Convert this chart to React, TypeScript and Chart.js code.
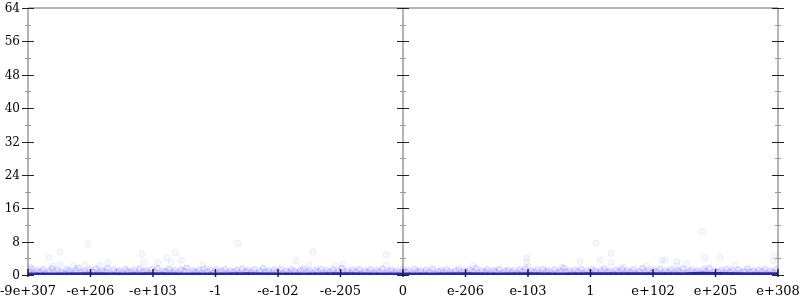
import React, { useEffect, useRef } from "react";
import { Chart, registerables } from "chart.js";

Chart.register(...registerables);

const xTickLabels = ["-9e+307", "-e+206", "-e+103", "-1", "-e-102", "-e-205", "0", "e-206", "e-103", "1", "e+102", "e+205", "e+308"];
const yTickValues = [0, 8, 16, 24, 32, 40, 48, 56, 64];
const frameX = [0, 6, 12];
const yMax = 64;
const yMajorStep = 8;

const outlierPoints: [number, number][] = [
  [0.03, 2.0], [0.34, 4.1], [0.4, 2.2], [0.51, 5.6], [0.51, 2.6], [0.72, 2.2], [0.91, 2.3], [0.96, 7.4],
  [1.14, 2.2], [1.28, 3.0], [1.82, 5.1], [1.86, 3.0], [2.08, 3.0], [2.22, 4.1], [2.29, 3.1], [2.36, 5.3],
  [2.46, 3.5], [2.8, 2.4], [3.36, 7.6], [4.29, 3.4], [4.5, 2.4], [4.56, 5.6], [4.92, 2.2], [5.04, 2.6],
  [5.73, 4.8], [5.73, 2.4], [7.12, 2.2], [7.98, 4.1], [7.98, 3.2], [8.0, 1.9], [8.54, 1.9], [8.83, 3.2],
  [9.09, 7.6], [9.15, 3.6], [9.33, 5.2], [9.33, 3.0], [9.52, 1.9], [9.9, 2.2], [10.14, 3.6], [10.19, 3.5],
  [10.38, 3.2], [10.38, 2.2], [10.54, 2.6], [10.78, 10.4], [10.83, 4.1], [11.07, 4.3], [11.31, 2.3],
  [11.92, 3.4], [11.95, 4.6],
];

const bandPoints: [number, number][] = [
  [0.02, 0.8], [0.05, 1.5], [0.1, 0.5], [0.14, 1.1], [0.19, 0.7], [0.24, 1.3], [0.28, 0.4], [0.33, 0.9], [0.38, 1.6], [0.42, 0.6],
  [0.47, 1.2], [0.53, 0.8], [0.57, 0.4], [0.62, 1.4], [0.66, 0.9], [0.71, 0.5], [0.76, 1.1], [0.8, 1.7], [0.85, 0.6], [0.9, 1.0],
  [0.94, 0.4], [0.99, 1.3], [1.04, 0.7], [1.09, 1.5], [1.13, 0.5], [1.18, 1.0], [1.23, 0.8], [1.27, 1.6], [1.32, 0.4], [1.37, 1.2],
  [1.42, 0.7], [1.46, 1.0], [1.51, 0.5], [1.56, 1.4], [1.6, 0.9], [1.65, 0.6], [1.7, 1.2], [1.74, 0.4], [1.79, 1.5], [1.84, 0.8],
  [1.89, 1.1], [1.93, 0.5], [1.98, 1.3], [2.03, 0.7], [2.07, 1.6], [2.12, 0.4], [2.17, 1.0], [2.21, 0.8], [2.26, 1.4], [2.31, 0.6],
  [2.35, 1.1], [2.4, 0.5], [2.45, 1.3], [2.5, 0.9], [2.54, 1.7], [2.59, 0.4], [2.64, 1.0], [2.68, 0.7], [2.73, 1.2], [2.78, 0.5],
  [2.82, 1.5], [2.87, 0.8], [2.92, 1.1], [2.96, 0.4], [3.01, 1.3], [3.06, 0.6], [3.1, 0.9], [3.15, 1.4], [3.2, 0.5], [3.24, 1.0],
  [3.29, 0.7], [3.34, 1.2], [3.38, 0.4], [3.43, 1.5], [3.48, 0.8], [3.52, 1.1], [3.57, 0.6], [3.62, 1.3], [3.66, 0.4], [3.71, 0.9],
  [3.76, 1.6], [3.8, 0.7], [3.85, 1.0], [3.9, 0.5], [3.94, 1.2], [3.99, 0.8], [4.04, 1.4], [4.08, 0.4], [4.13, 1.0], [4.18, 0.6],
  [4.22, 1.3], [4.27, 0.9], [4.32, 0.5], [4.36, 1.1], [4.41, 1.5], [4.46, 0.7], [4.5, 1.0], [4.55, 0.4], [4.6, 1.2], [4.64, 0.8],
  [4.69, 1.4], [4.74, 0.5], [4.78, 1.1], [4.83, 0.7], [4.88, 1.3], [4.92, 0.4], [4.97, 0.9], [5.02, 1.6], [5.06, 0.6], [5.11, 1.0],
  [5.16, 0.5], [5.2, 1.2], [5.25, 0.8], [5.3, 1.4], [5.34, 0.4], [5.39, 1.0], [5.44, 0.7], [5.48, 1.3], [5.53, 0.5], [5.58, 1.1],
  [5.62, 0.8], [5.67, 1.5], [5.72, 0.4], [5.76, 0.9], [5.81, 1.2], [5.86, 0.6], [5.9, 1.0], [5.95, 0.5], [6.0, 1.3],
  [6.05, 0.7], [6.09, 1.1], [6.14, 0.4], [6.19, 1.4], [6.23, 0.8], [6.28, 1.0], [6.33, 0.5], [6.37, 1.2], [6.42, 0.7], [6.47, 1.5],
  [6.51, 0.4], [6.56, 0.9], [6.61, 1.1], [6.65, 0.6], [6.7, 1.3], [6.75, 0.8], [6.79, 0.4], [6.84, 1.0], [6.89, 1.4], [6.93, 0.6],
  [6.98, 1.1], [7.03, 0.5], [7.07, 1.2], [7.12, 0.8], [7.17, 1.6], [7.21, 0.4], [7.26, 1.0], [7.31, 0.7], [7.35, 1.3], [7.4, 0.5],
  [7.45, 1.1], [7.49, 0.8], [7.54, 1.4], [7.59, 0.4], [7.63, 0.9], [7.68, 1.2], [7.73, 0.6], [7.77, 1.0], [7.82, 0.5], [7.87, 1.3],
  [7.91, 0.8], [7.96, 1.5], [8.01, 0.4], [8.05, 1.0], [8.1, 0.7], [8.15, 1.2], [8.19, 0.5], [8.24, 1.4], [8.29, 0.8], [8.33, 1.1],
  [8.38, 0.4], [8.43, 1.3], [8.47, 0.6], [8.52, 0.9], [8.57, 1.6], [8.61, 0.7], [8.66, 1.0], [8.71, 0.5], [8.75, 1.2], [8.8, 0.8],
  [8.85, 1.4], [8.89, 0.4], [8.94, 1.0], [8.99, 0.6], [9.03, 1.3], [9.08, 0.9], [9.13, 0.5], [9.17, 1.1], [9.22, 1.5], [9.27, 0.7],
  [9.31, 1.0], [9.36, 0.4], [9.41, 1.2], [9.45, 0.8], [9.5, 1.4], [9.55, 0.5], [9.59, 1.1], [9.64, 0.7], [9.69, 1.3], [9.73, 0.4],
  [9.78, 0.9], [9.83, 1.6], [9.87, 0.6], [9.92, 1.0], [9.97, 0.5], [10.01, 1.2], [10.06, 0.8], [10.11, 1.4], [10.15, 0.4], [10.2, 1.0],
  [10.25, 0.7], [10.29, 1.3], [10.34, 0.5], [10.39, 1.1], [10.43, 0.8], [10.48, 1.5], [10.53, 0.4], [10.57, 0.9], [10.62, 1.2], [10.67, 0.6],
  [10.71, 1.0], [10.76, 0.5], [10.81, 1.3], [10.85, 0.8], [10.9, 1.6], [10.95, 0.4], [10.99, 1.0], [11.04, 0.7], [11.09, 1.2], [11.13, 0.5],
  [11.18, 1.4], [11.23, 0.8], [11.27, 1.1], [11.32, 0.4], [11.37, 1.3], [11.41, 0.6], [11.46, 0.9], [11.51, 1.5], [11.55, 0.7], [11.6, 1.0],
  [11.65, 0.5], [11.69, 1.2], [11.74, 0.8], [11.79, 1.4], [11.83, 0.4], [11.88, 1.0], [11.93, 0.6], [11.97, 1.3],
];

const lineX = [0, 0.5, 1, 1.5, 2, 2.5, 3, 3.5, 4, 4.5, 5, 5.5, 6, 6.5, 7, 7.5, 8, 8.5, 9, 9.5, 10, 10.5, 10.8, 11, 11.5, 12];
const lineY = [0.2, 0.2, 0.22, 0.2, 0.23, 0.2, 0.2, 0.22, 0.2, 0.2, 0.21, 0.2, 0.2, 0.2, 0.21, 0.2, 0.22, 0.2, 0.24, 0.22, 0.23, 0.25, 0.35, 0.28, 0.23, 0.22];

const FONT = "'DejaVu Serif', serif";

const framePlugin = {
  id: "frameDeco",
  beforeDatasetsDraw(chart: any) {
    const { ctx, chartArea: a, scales } = chart;
    const x = scales.x, y = scales.y;
    ctx.save();
    ctx.strokeStyle = "#b4b4b4";
    ctx.lineWidth = 2;
    ctx.beginPath();
    for (const v of frameX) {
      const px = Math.round(x.getPixelForValue(v));
      ctx.moveTo(px, a.top);
      ctx.lineTo(px, a.bottom);
    }
    const ty = y.getPixelForValue(yMax);
    ctx.moveTo(a.left, ty);
    ctx.lineTo(a.right, ty);
    ctx.stroke();
    ctx.restore();
  },
  afterDatasetsDraw(chart: any) {
    const { ctx, chartArea: a, scales } = chart;
    const x = scales.x, y = scales.y;
    ctx.save();
    ctx.lineWidth = 1;
    for (const v of frameX) {
      const px = Math.round(x.getPixelForValue(v));
      for (let t = 0; t <= yMax; t += yMajorStep / 2) {
        const py = Math.round(y.getPixelForValue(t)) + 0.5;
        const major = t % yMajorStep === 0;
        const h = major ? 6 : 3;
        ctx.strokeStyle = major ? "#222" : "#999";
        ctx.beginPath();
        ctx.moveTo(px - h, py);
        ctx.lineTo(px + h, py);
        ctx.stroke();
      }
    }
    ctx.strokeStyle = "#222";
    ctx.lineWidth = 1.5;
    for (let i = 0; i < xTickLabels.length; i++) {
      const px = x.getPixelForValue(i);
      ctx.beginPath();
      ctx.moveTo(px, a.bottom - 6);
      ctx.lineTo(px, a.bottom + 2);
      ctx.stroke();
    }
    // labels
    ctx.fillStyle = "#000";
    ctx.font = `13px ${FONT}`;
    ctx.textAlign = "center";
    ctx.textBaseline = "alphabetic";
    xTickLabels.forEach((lab, i) => {
      ctx.fillText(lab, x.getPixelForValue(i), a.bottom + 20);
    });
    ctx.font = `12px ${FONT}`;
    ctx.textAlign = "right";
    for (const t of yTickValues) {
      ctx.fillText(String(t), a.left - 8, y.getPixelForValue(t) + 4);
    }
    ctx.restore();
  },
};

export default function App() {
  const ref = useRef<HTMLCanvasElement>(null);
  useEffect(() => {
    document.body.style.margin = "0";
    const chart = new Chart(ref.current!, {
      type: "scatter",
      data: {
        datasets: [
          {
            label: "band",
            data: bandPoints.map(([px, py]) => ({ x: px, y: py })),
            pointRadius: 3,
            pointBackgroundColor: "rgba(0,0,255,0.09)",
            pointBorderColor: "rgba(0,0,255,0.12)",
            pointBorderWidth: 1,
            order: 3,
          },
          {
            label: "outliers",
            data: outlierPoints.map(([px, py]) => ({ x: px, y: py })),
            pointRadius: 3,
            pointBackgroundColor: "rgba(0,0,255,0.03)",
            pointBorderColor: "rgba(0,0,255,0.07)",
            pointBorderWidth: 1,
            order: 2,
          },
          {
            type: "line",
            label: "error",
            data: lineX.map((lx, i) => ({ x: lx, y: lineY[i] })),
            borderColor: "rgba(20,20,165,0.9)",
            borderWidth: 3.5,
            pointRadius: 0,
            tension: 0,
            order: 1,
          } as any,
        ],
      },
      options: {
        animation: false,
        responsive: false,
        devicePixelRatio: 1,
        layout: { padding: { top: 8, right: 22, left: 0, bottom: 0 } },
        plugins: { legend: { display: false }, tooltip: { enabled: false } },
        scales: {
          x: {
            type: "linear",
            min: 0,
            max: 12,
            grid: { display: false, drawTicks: false },
            border: { display: false },
            afterFit: (s: any) => { s.height = 25; },
            ticks: { display: false, stepSize: 1 },
          },
          y: {
            type: "linear",
            min: 0,
            max: yMax,
            grid: { display: false, drawTicks: false },
            border: { display: false },
            afterFit: (s: any) => { s.width = 28; },
            ticks: { display: false, stepSize: yMajorStep },
          },
        },
      },
      plugins: [framePlugin],
    });
    return () => chart.destroy();
  }, []);
  return (
    <div style={{ width: 800, height: 300 }}>
      <canvas ref={ref} width={800} height={300} style={{ display: "block", width: 800, height: 300 }} />
    </div>
  );
}
